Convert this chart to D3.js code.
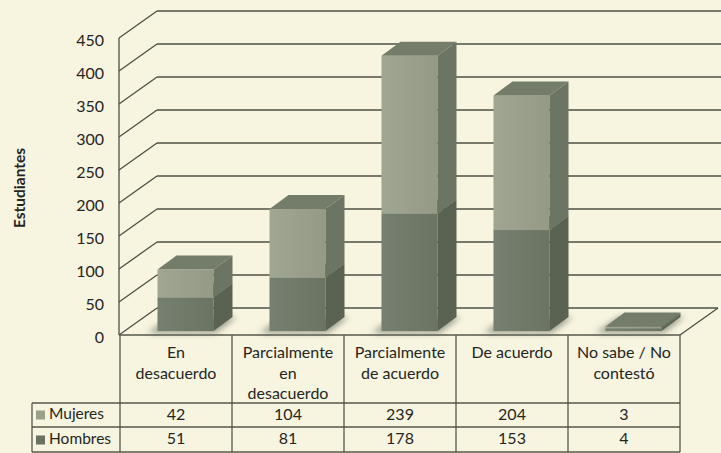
<!DOCTYPE html>
<html>
  <head>
    <meta charset="utf-8">
    <script src="https://d3js.org/d3.v7.min.js"></script>
    <style>
      body { margin: 0; background: #f7f5df; }
      text { font-family: Lato, "Open Sans", sans-serif; fill: #25251f; }
    </style>
  </head>
  <body>
    <script>
      // data
      var categories = ["En desacuerdo", "Parcialmente en desacuerdo", "Parcialmente de acuerdo", "De acuerdo", "No sabe / No contestó"]
      var headerLines = [["En", "desacuerdo"], ["Parcialmente", "en", "desacuerdo"], ["Parcialmente", "de acuerdo"], ["De acuerdo"], ["No sabe / No", "contestó"]]
      var mujeres = [42, 104, 239, 204, 3]
      var hombres = [51, 81, 178, 153, 4]
      var yTicks = [0, 50, 100, 150, 200, 250, 300, 350, 400, 450]

      var width = 721
      var height = 453

      var svg = d3.select("body").append("svg")
      .attr("width", width)
      .attr("height", height);

      var defs = svg.append("defs");
      defs.append("filter").attr("id", "blur")
      .attr("x", "-50%").attr("y", "-50%").attr("width", "200%").attr("height", "200%")
      .append("feGaussianBlur").attr("stdDeviation", 3);

      function grad(id, c1, c2) {
        var g = defs.append("linearGradient").attr("id", id)
        .attr("x1", 0).attr("x2", 1).attr("y1", 0).attr("y2", 0);
        g.append("stop").attr("offset", "0%").attr("stop-color", c1);
        g.append("stop").attr("offset", "100%").attr("stop-color", c2);
      }
      grad("gMuj", "#a1a692", "#949a85");
      grad("gHom", "#768070", "#6b7463");

      // frame geometry
      var x0 = 119, x1 = 680
      var depth = {dx: 38, dy: -27}

      var y = d3.scaleLinear().domain([0, 450]).range([335, 38]);
      var x = d3.scaleBand().domain(categories).range([120, 680]);

      // back wall + left wall gridlines
      yTicks.forEach(function(t) {
        svg.append("line")
        .attr("x1", x0).attr("y1", y(t))
        .attr("x2", x0 + depth.dx).attr("y2", y(t) + depth.dy)
        .style("stroke", "#4d4f45").style("stroke-width", 1.3);
        svg.append("line")
        .attr("x1", x0 + depth.dx).attr("y1", y(t) + depth.dy)
        .attr("x2", t == 0 ? x1 + depth.dx : width).attr("y2", y(t) + depth.dy)
        .style("stroke", "#4d4f45").style("stroke-width", 1.3);
        svg.append("text")
        .attr("x", 104).attr("y", y(t) + 4)
        .attr("text-anchor", "end").attr("dominant-baseline", "middle")
        .style("font-size", "16px")
        .text(t);
      });

      // front axis line and floor right edge
      svg.append("line")
      .attr("x1", x0).attr("y1", y(450)).attr("x2", x0).attr("y2", y(0))
      .style("stroke", "#4d4f45").style("stroke-width", 1.3);
      svg.append("line")
      .attr("x1", x1).attr("y1", y(0)).attr("x2", x1 + depth.dx).attr("y2", y(0) + depth.dy)
      .style("stroke", "#4d4f45").style("stroke-width", 1.3);

      // y title
      svg.append("text")
      .attr("transform", "translate(21,188) rotate(-90)")
      .attr("text-anchor", "middle").attr("dominant-baseline", "middle")
      .style("font-size", "15.5px").style("font-weight", "bold")
      .text("Estudiantes");

      // bars
      var barW = 56
      var bd = {dx: 19, dy: -14}
      var planeDy = -4

      var rows = categories.map(function(c, i) { return {cat: c, Hombres: hombres[i], Mujeres: mujeres[i]}; });
      var stack = d3.stack().keys(["Hombres", "Mujeres"])(rows);

      var bars = svg.append("g");
      categories.forEach(function(c, i) {
        var left = x(c) + x.bandwidth() / 2 + depth.dx / 2 - barW / 2 - bd.dx / 2;
        var base = y(0) + planeDy;
        // shadow on the floor
        bars.append("polygon")
        .attr("points", [[left - 10, base + 2], [left + barW + 2, base + 2], [left + barW + bd.dx + 4, base + bd.dy], [left + bd.dx - 6, base + bd.dy]].join(" "))
        .attr("fill", "#6f7363").attr("opacity", 0.7).attr("filter", "url(#blur)");
      });

      stack.forEach(function(layer) {
        var key = layer.key;
        var front = key == "Mujeres" ? "url(#gMuj)" : "url(#gHom)";
        var side = key == "Mujeres" ? "#6c7463" : "#5a6252";
        var top = key == "Mujeres" ? "#747c6a" : "#646c5c";
        layer.forEach(function(d, i) {
          var c = categories[i];
          var left = x(c) + x.bandwidth() / 2 + depth.dx / 2 - barW / 2 - bd.dx / 2;
          var yb = y(d[0]) + planeDy, yt = y(d[1]) + planeDy;
          bars.append("rect")
          .attr("x", left).attr("y", yt)
          .attr("width", barW).attr("height", Math.max(yb - yt, 0))
          .attr("fill", front);
          bars.append("polygon")
          .attr("points", [[left + barW, yt], [left + barW + bd.dx, yt + bd.dy], [left + barW + bd.dx, yb + bd.dy], [left + barW, yb]].join(" "))
          .attr("fill", side);
          bars.append("polygon")
          .attr("points", [[left, yt], [left + bd.dx, yt + bd.dy], [left + barW + bd.dx, yt + bd.dy], [left + barW, yt]].join(" "))
          .attr("fill", top);
        });
      });

      // data table
      var tableTop = 335, headBottom = 403, row1 = 427, tableBottom = 452, legendLeft = 32
      var lineStyle = function(sel) { return sel.style("stroke", "#55574c").style("stroke-width", 1.3); };

      lineStyle(svg.append("line").attr("x1", x0).attr("y1", tableTop).attr("x2", x1).attr("y2", tableTop));
      [headBottom, row1, tableBottom].forEach(function(yy) {
        lineStyle(svg.append("line").attr("x1", legendLeft).attr("y1", yy).attr("x2", x1).attr("y2", yy));
      });
      lineStyle(svg.append("line").attr("x1", legendLeft).attr("y1", headBottom).attr("x2", legendLeft).attr("y2", tableBottom));
      categories.forEach(function(c) {
        lineStyle(svg.append("line").attr("x1", x(c)).attr("y1", tableTop).attr("x2", x(c)).attr("y2", tableBottom));
      });
      lineStyle(svg.append("line").attr("x1", x1).attr("y1", tableTop).attr("x2", x1).attr("y2", tableBottom));

      categories.forEach(function(c, i) {
        var cx = x(c) + x.bandwidth() / 2;
        headerLines[i].forEach(function(l, j) {
          svg.append("text")
          .attr("x", cx).attr("y", 354 + j * 20.5)
          .attr("text-anchor", "middle").attr("dominant-baseline", "middle")
          .style("font-size", "16px")
          .text(l);
        });
        svg.append("text")
        .attr("x", cx).attr("y", 416)
        .attr("text-anchor", "middle").attr("dominant-baseline", "middle")
        .style("font-size", "16px")
        .text(mujeres[i]);
        svg.append("text")
        .attr("x", cx).attr("y", 440)
        .attr("text-anchor", "middle").attr("dominant-baseline", "middle")
        .style("font-size", "16px")
        .text(hombres[i]);
      });

      // legend keys
      var legend = [["Mujeres", "#9ba08b", 415], ["Hombres", "#6a7262", 440]];
      legend.forEach(function(l) {
        svg.append("rect")
        .attr("x", 36).attr("y", l[2] - 4.5).attr("width", 9).attr("height", 9)
        .attr("fill", l[1]);
        svg.append("text")
        .attr("x", 49).attr("y", l[2])
        .attr("dominant-baseline", "middle")
        .style("font-size", "15.5px")
        .text(l[0]);
      });
    </script>
  </body>
</html>
